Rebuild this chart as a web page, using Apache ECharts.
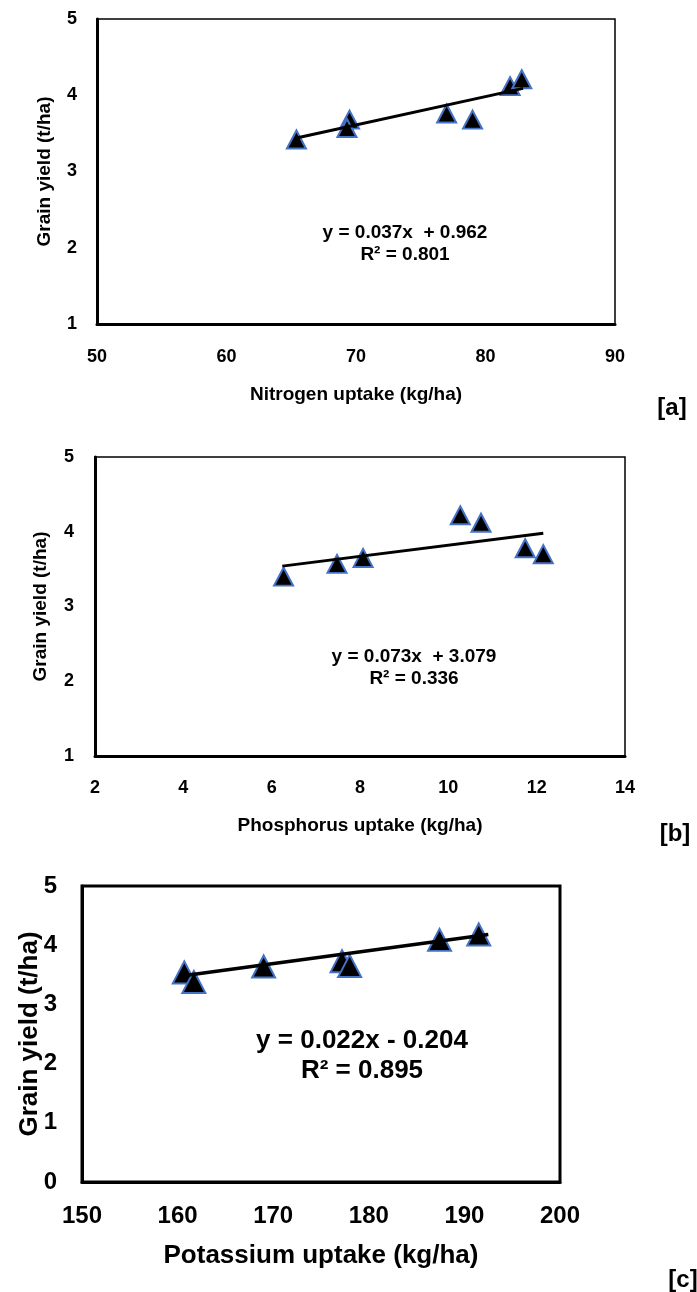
<!DOCTYPE html>
<html>
<head>
<meta charset="utf-8">
<script src="https://cdn.jsdelivr.net/npm/echarts@6/dist/echarts.min.js"></script>
<style>
html,body{margin:0;padding:0;background:#fff;}
#c{width:697px;height:1292px;}
</style>
</head>
<body>
<div id="c"></div>
<script>
// ---- Data ----
const nUptake = [65.4, 69.5, 69.3, 77.0, 79.0, 81.9, 82.8];
const nYield  = [3.42, 3.68, 3.57, 3.76, 3.68, 4.12, 4.21];
const nTrend  = [[65.4, 3.44], [82.9, 4.09]];
const nEq = ['y = 0.037x  + 0.962', 'R² = 0.801'];

const pUptake = [6.27, 7.48, 8.07, 10.27, 10.74, 11.74, 12.15];
const pYield  = [3.40, 3.57, 3.65, 4.22, 4.12, 3.78, 3.70];
const pTrend  = [[6.24, 3.54], [12.15, 3.98]];
const pEq = ['y = 0.073x  + 3.079', 'R² = 0.336'];

const kUptake = [160.7, 161.7, 169.0, 177.2, 178.0, 187.4, 191.5];
const kYield  = [3.54, 3.38, 3.64, 3.73, 3.65, 4.09, 4.18];
const kTrend  = [[160.4, 3.48], [192.5, 4.18]];
const kEq = ['y = 0.022x - 0.204', 'R² = 0.895'];

const xNames = ['Nitrogen uptake (kg/ha)', 'Phosphorus uptake (kg/ha)', 'Potassium uptake (kg/ha)'];
const yName = 'Grain yield (t/ha)';
const panelTags = ['[a]', '[b]', '[c]'];

// ---- Build ----
const FONT = '"Liberation Sans", Arial, sans-serif';
const zip = (xs, ys) => xs.map((x, i) => [x, ys[i]]);

const panels = [
  {grid:{left:97, top:19, width:518, height:305, borderW:1.5},
   x:{min:50,max:90,interval:10}, y:{min:1,max:5,interval:1},
   tick:18, name:19, xm:24, ym:20, xGap:61, yGap:43, sym:[19,18], lw:3,
   data:zip(nUptake,nYield), trend:nTrend, eq:nEq, eqPos:[405,244], eqFont:19, eqLH:22,
   tag:[672,408]},
  {grid:{left:95, top:457, width:530, height:299, borderW:1.5},
   x:{min:2,max:14,interval:2}, y:{min:1,max:5,interval:1},
   tick:18, name:19, xm:23, ym:21, xGap:60, yGap:45, sym:[19,18], lw:3,
   data:zip(pUptake,pYield), trend:pTrend, eq:pEq, eqPos:[414,668], eqFont:19, eqLH:22,
   tag:[675,834]},
  {grid:{left:82, top:886, width:478, height:296, borderW:3},
   x:{min:150,max:200,interval:10}, y:{min:0,max:5,interval:1},
   tick:24, name:26, xm:22, ym:25, xGap:61, yGap:39, sym:[23,22], lw:3.5,
   data:zip(kUptake,kYield), trend:kTrend, eq:kEq, eqPos:[362,1056], eqFont:26, eqLH:30,
   tag:[683,1280]}
];

const grid = [], xAxis = [], yAxis = [], series = [], graphic = [];
panels.forEach((p, i) => {
  grid.push({left:p.grid.left, top:p.grid.top, width:p.grid.width, height:p.grid.height,
    show:true, borderColor:'#000', borderWidth:p.grid.borderW, backgroundColor:'#fff'});
  xAxis.push({type:'value', gridIndex:i, min:p.x.min, max:p.x.max, interval:p.x.interval,
    name:xNames[i], nameLocation:'middle', nameGap:p.xGap, nameMoveOverlap:false,
    nameTextStyle:{fontFamily:FONT, fontWeight:'bold', fontSize:p.name, color:'#000'},
    axisLine:{show:true, onZero:false, lineStyle:{color:'#000', width:3}},
    axisTick:{show:false}, splitLine:{show:false},
    axisLabel:{fontFamily:FONT, fontWeight:'bold', fontSize:p.tick, color:'#000', margin:p.xm}});
  yAxis.push({type:'value', gridIndex:i, min:p.y.min, max:p.y.max, interval:p.y.interval,
    name:yName, nameLocation:'middle', nameGap:p.yGap, nameMoveOverlap:false,
    nameTextStyle:{fontFamily:FONT, fontWeight:'bold', fontSize:p.name, color:'#000'},
    axisLine:{show:true, onZero:false, lineStyle:{color:'#000', width:3}},
    axisTick:{show:false}, splitLine:{show:false},
    axisLabel:{fontFamily:FONT, fontWeight:'bold', fontSize:p.tick, color:'#000', margin:p.ym}});
  series.push({type:'scatter', xAxisIndex:i, yAxisIndex:i, data:p.data,
    symbol:'triangle', symbolSize:p.sym, z:3,
    itemStyle:{color:'#000', borderColor:'#4472C4', borderWidth:2, opacity:1}});
  series.push({type:'line', xAxisIndex:i, yAxisIndex:i, data:p.trend, symbol:'none', z:4,
    lineStyle:{color:'#000', width:p.lw}, silent:true});
  graphic.push({type:'text', x:p.eqPos[0], y:p.eqPos[1], z:10,
    style:{text:p.eq.join('\n'), fontFamily:FONT, fontWeight:'bold', fontSize:p.eqFont,
      lineHeight:p.eqLH, fill:'#000', align:'center', verticalAlign:'middle'}});
  graphic.push({type:'text', x:p.tag[0], y:p.tag[1], z:10,
    style:{text:panelTags[i], fontFamily:FONT, fontWeight:'bold', fontSize:24, fill:'#000',
      align:'center', verticalAlign:'middle'}});
});

const chart = echarts.init(document.getElementById('c'), null, {renderer:'canvas'});
chart.setOption({animation:false, backgroundColor:'#fff', grid, xAxis, yAxis, series, graphic});
</script>
</body>
</html>
